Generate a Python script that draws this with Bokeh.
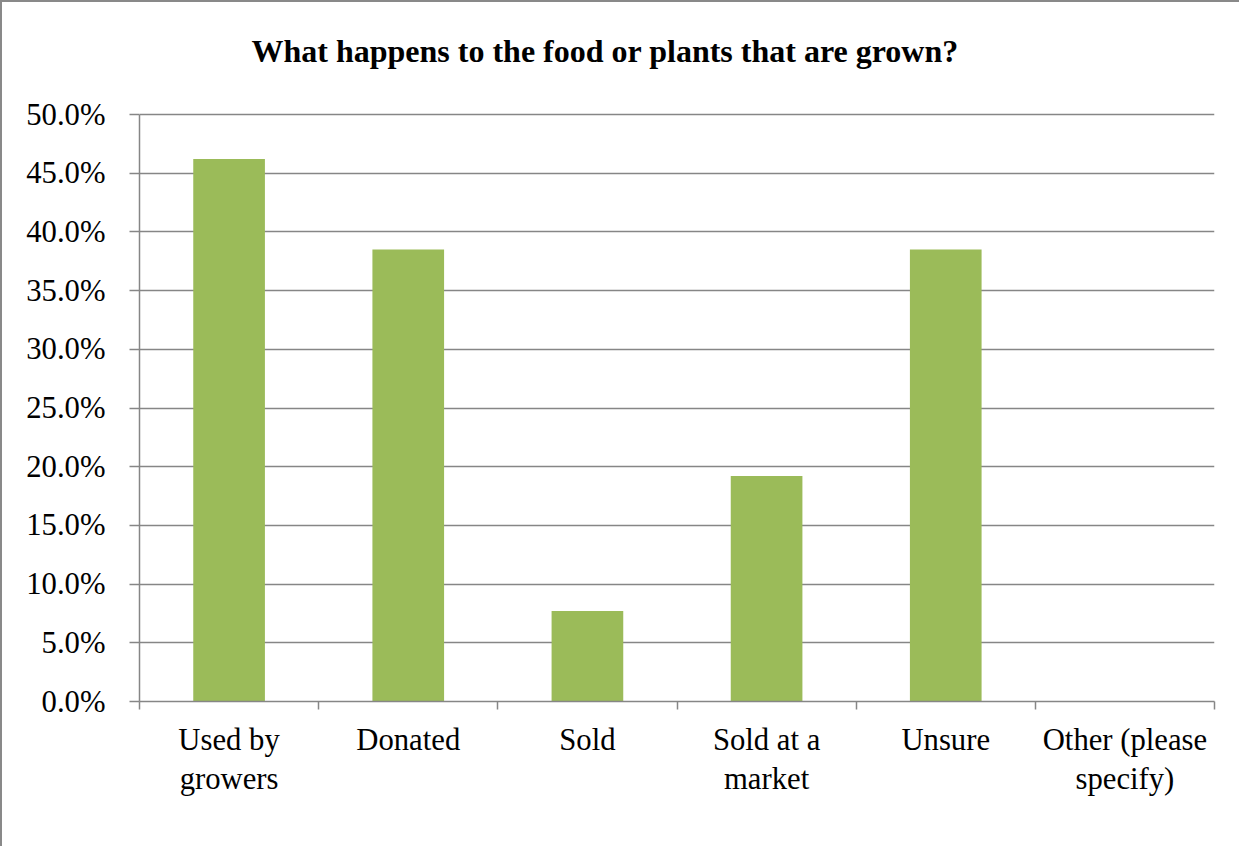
from bokeh.plotting import figure
from bokeh.models import FixedTicker, PrintfTickFormatter, Range1d, ColumnDataSource
from bokeh.core.properties import value
from bokeh.embed import file_html
from bokeh.resources import INLINE

categories = ["Used by\ngrowers", "Donated", "Sold", "Sold at a\nmarket", "Unsure", "Other (please\nspecify)"]
values = [46.2, 38.5, 7.7, 19.2, 38.5, 0.0]
y_ticks = [0, 5, 10, 15, 20, 25, 30, 35, 40, 45, 50]
title_text = "What happens to the food or plants that are grown?"

FONT = "Liberation Serif"
GRAY = "#868686"
GREEN = "#9BBB59"

# layout (pixels)
W, H = 1239, 846
LEFT, RIGHT, BOTTOM = 137, 27, 147
AXIS_TOP_PX = 112          # canvas y of the 50% line
TITLE_X_PX, TITLE_Y_PX = 249, 48
Y_MAX = 50

frame_h = H - BOTTOM
frame_w = W - LEFT - RIGHT
px_per_unit = (frame_h - AXIS_TOP_PX) / Y_MAX
y_end = frame_h / px_per_unit
n = len(categories)

centers = [i + 0.5 for i in range(n)]
src = ColumnDataSource(dict(x=centers, top=values))

p = figure(width=W, height=H, output_backend="svg", toolbar_location=None,
           x_range=Range1d(0, n), y_range=Range1d(0, y_end),
           min_border_left=LEFT, min_border_right=RIGHT, min_border_top=0, min_border_bottom=BOTTOM)
p.styles = {"border-left": "2px solid #898989", "border-top": "2px solid #898989"}

p.vbar(x="x", top="top", width=0.4, source=src, fill_color=GREEN, line_color=None)

p.text(x=[(TITLE_X_PX - LEFT) / frame_w * n], y=[(frame_h - TITLE_Y_PX) / px_per_unit],
       text=[title_text], text_font=value(FONT), text_font_size=value("32px"),
       text_font_style="bold", text_color="black", text_align="left", text_baseline="middle")

p.outline_line_color = None
p.xgrid.grid_line_color = None
p.ygrid.ticker = FixedTicker(ticks=y_ticks)
p.ygrid.grid_line_color = GRAY
p.ygrid.grid_line_width = 1.5

ya = p.yaxis[0]
ya.bounds = (0, Y_MAX)
ya.ticker = FixedTicker(ticks=y_ticks)
ya.formatter = PrintfTickFormatter(format="%.1f%%")
ya.major_label_text_font = FONT
ya.major_label_text_font_size = "30.7px"
ya.major_label_text_color = "black"
ya.axis_line_color = GRAY
ya.axis_line_width = 1.5
ya.major_tick_line_color = GRAY
ya.major_tick_line_width = 1.5
ya.major_tick_out = 10
ya.major_tick_in = 0
ya.minor_tick_line_color = None
ya.major_label_standoff = 24

xa = p.xaxis[0]
xa.ticker = FixedTicker(ticks=centers, minor_ticks=list(range(n + 1)))
xa.major_label_overrides = {c: lab for c, lab in zip(centers, categories)}
xa.major_label_text_font = FONT
xa.major_label_text_font_size = "30.7px"
xa.major_label_text_color = "black"
xa.major_label_text_line_height = 1.17
xa.axis_line_color = GRAY
xa.axis_line_width = 1.5
xa.major_tick_line_color = None
xa.major_tick_out = 0
xa.major_tick_in = 0
xa.minor_tick_line_color = GRAY
xa.minor_tick_line_width = 1.5
xa.minor_tick_out = 8
xa.minor_tick_in = 0
xa.major_label_standoff = 13

open("out.html", "w").write(file_html(p, INLINE))
